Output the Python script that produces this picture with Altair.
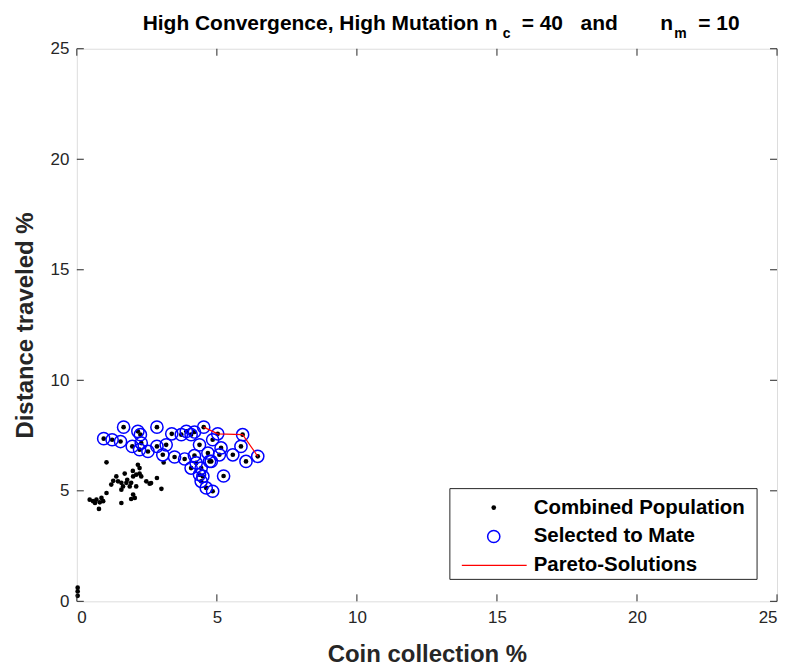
import altair as alt
import pandas as pd

# ---- data ----
sel_x = [0.96, 1.26, 1.56, 1.67, 1.98, 2.18, 2.27, 2.30, 2.24, 2.54, 2.86, 2.86, 3.07, 3.19,
         3.39, 3.49, 3.85, 3.91, 4.08, 4.20, 4.26, 4.38, 4.44, 4.53, 4.50, 4.62, 4.85, 4.80,
         4.85, 5.03, 5.15, 5.09, 5.24, 5.57, 5.86, 5.92, 6.04, 6.46, 4.38, 4.44, 4.08, 4.74,
         3.73, 4.20, 4.68]
sel_y = [7.36, 7.31, 7.23, 7.88, 7.01, 7.69, 7.54, 7.16, 6.86, 6.78, 7.88, 7.01, 6.63, 7.08,
         7.58, 6.53, 6.44, 7.69, 7.54, 6.59, 6.26, 7.08, 6.03, 7.88, 5.65, 5.13, 4.98, 6.33,
         7.31, 7.58, 6.94, 6.63, 5.67, 6.63, 7.01, 7.54, 6.33, 6.56, 5.73, 5.43, 6.03, 6.33,
         7.54, 7.66, 6.71]
oth_x = [1.06, 2.18, 2.24, 2.12, 2.01, 2.30, 1.71, 1.41, 1.47, 1.59, 1.23, 2.48, 2.60, 2.86,
         1.94, 1.89, 2.12, 1.59, 1.06, 2.01, 2.07, 1.94, 3.02, 0.46, 0.58, 0.70, 0.82, 0.94,
         0.88, 1.59, 0.79, 1.65, 1.77, 2.24, 1.80, 3.10, 2.00, 1.30, 0.65, 2.65,
         0.03, 0.03, 0.03]
oth_y = [6.29, 6.18, 6.03, 5.73, 5.65, 5.65, 5.78, 5.65, 5.43, 5.36, 5.28, 5.43, 5.32, 5.58,
         5.36, 5.20, 5.20, 5.05, 4.90, 4.83, 4.68, 4.63, 5.09, 4.60, 4.53, 4.60, 4.48, 4.53,
         4.68, 4.45, 4.18, 5.20, 5.36, 5.78, 5.50, 6.28, 5.90, 5.45, 4.45, 5.35,
         0.62, 0.45, 0.25]
par_x = [4.53, 5.03, 5.92, 6.46]
par_y = [7.88, 7.58, 7.54, 6.56]
ticks = [0, 5, 10, 15, 20, 25]
legend_labels = ["Combined Population", "Selected to Mate", "Pareto-Solutions"]
title_parts = ["High Convergence, High Mutation n", "c", "= 40", "and", "n", "m", "= 10"]

W, H = 702, 554
FONT = "Liberation Sans"
INK = "#262626"

comb = pd.DataFrame({"x": oth_x + sel_x, "y": oth_y + sel_y})
sel = pd.DataFrame({"x": sel_x, "y": sel_y})
par = pd.DataFrame({"x": par_x, "y": par_y, "o": list(range(len(par_x)))})
tk = pd.DataFrame({"x": ticks, "y": ticks})

xs = alt.Scale(domain=[0, 25], nice=False, zero=False)
ys = alt.Scale(domain=[0, 25], nice=False, zero=False)
ax_common = dict(values=ticks, domain=False, ticks=False, grid=False,
                 labelFont=FONT, labelFontSize=17, labelColor=INK,
                 titleFont=FONT, titleFontSize=24, titleFontWeight="bold", titleColor=INK)
X = alt.X("x:Q", scale=xs, axis=alt.Axis(title="Coin collection %", labelPadding=8,
                                          titlePadding=17, **ax_common))
Y = alt.Y("y:Q", scale=ys, axis=alt.Axis(title="Distance traveled %", labelPadding=8,
                                          titlePadding=13, **ax_common))

pop = alt.Chart(comb).mark_point(filled=True, color="black", size=22, opacity=1).encode(x=X, y=Y)
circ = alt.Chart(sel).mark_point(filled=False, color="#0000ff", size=150, strokeWidth=1.5,
                                 opacity=1).encode(x=X, y=Y)
line = alt.Chart(par).mark_line(color="#ff0000", strokeWidth=1.2).encode(x=X, y=Y, order="o:Q")

tick_b = alt.Chart(tk).mark_rule(color=INK).encode(x=X, y=alt.value(H), y2=alt.value(H - 7))
tick_t = alt.Chart(tk).mark_rule(color=INK).encode(x=X, y=alt.value(0), y2=alt.value(7))
tick_l = alt.Chart(tk).mark_rule(color=INK).encode(y=Y, x=alt.value(0), x2=alt.value(7))
tick_r = alt.Chart(tk).mark_rule(color=INK).encode(y=Y, x=alt.value(W), x2=alt.value(W - 7))

# legend (drawn by hand)
one = pd.DataFrame({"k": [0]})
leg_box = alt.Chart(one).mark_rect(fill="white", stroke=INK, strokeWidth=1).encode(
    x=alt.value(374), x2=alt.value(682), y=alt.value(441), y2=alt.value(532))
leg_dot = alt.Chart(one).mark_point(filled=True, color="black", size=22, opacity=1).encode(
    x=alt.value(418), y=alt.value(460))
leg_circ = alt.Chart(one).mark_point(filled=False, color="#0000ff", size=150, strokeWidth=1.5,
                                     opacity=1).encode(x=alt.value(418), y=alt.value(489))
leg_line = alt.Chart(one).mark_rule(color="#ff0000", strokeWidth=1.2).encode(
    x=alt.value(386), x2=alt.value(451), y=alt.value(518))
leg_txt = []
for i, lab in enumerate(legend_labels):
    leg_txt.append(alt.Chart(pd.DataFrame({"t": [lab]})).mark_text(
        align="left", baseline="middle", font=FONT, fontSize=20.5, fontWeight="bold",
        color="black").encode(text="t:N", x=alt.value(458), y=alt.value(460 + 29 * i)))

# title (with subscripts)
tpos = [(66, -19, 21), (427, -11, 14), (446, -19, 21), (505, -19, 21), (585, -19, 21),
        (599, -11, 14), (623, -19, 21)]
title_layers = []
for part, (px, py, fs) in zip(title_parts, tpos):
    title_layers.append(alt.Chart(pd.DataFrame({"t": [part]})).mark_text(
        align="left", baseline="alphabetic", font=FONT, fontSize=fs, fontWeight="bold",
        color="black").encode(text="t:N", x=alt.value(px), y=alt.value(py)))

chart = alt.layer(pop, circ, line, tick_b, tick_t, tick_l, tick_r,
                  leg_box, leg_dot, leg_circ, leg_line, *leg_txt, *title_layers).properties(
    width=W, height=H,
    padding={"left": 69, "top": 40, "right": 10, "bottom": 70},
    autosize=alt.AutoSizeParams(type="none"),
).configure_view(stroke=INK, strokeWidth=1).configure(background="white")

chart.save("out.html", embed_options={"renderer": "svg", "actions": False})
